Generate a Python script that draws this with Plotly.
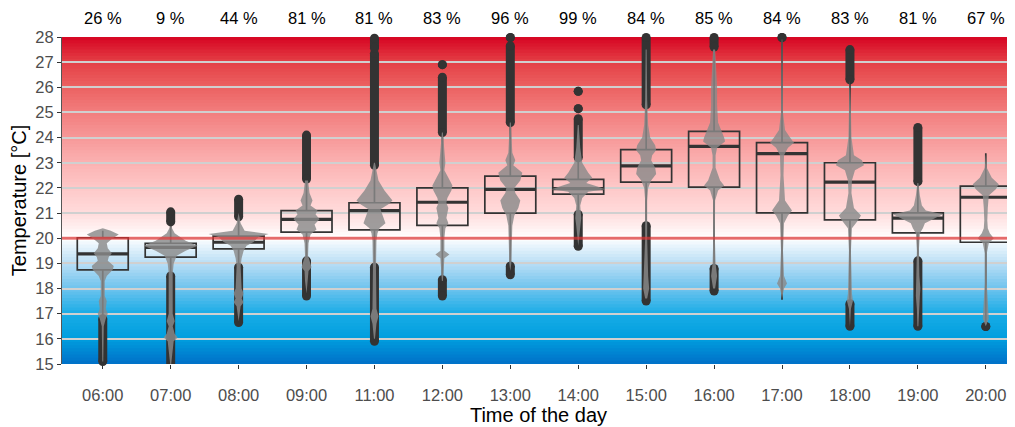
import plotly.graph_objects as go

# ---------------- data ----------------
times = ["06:00", "07:00", "08:00", "09:00", "11:00", "12:00", "13:00",
         "14:00", "15:00", "16:00", "17:00", "18:00", "19:00", "20:00"]
pct = [26, 9, 44, 81, 81, 83, 96, 99, 84, 85, 84, 83, 81, 67]

q1 = [18.74, 19.25, 19.58, 20.24, 20.33, 20.51, 21.00, 21.75, 22.23, 22.03, 21.01, 20.73, 20.21, 19.84]
med = [19.38, 19.64, 19.84, 20.75, 21.10, 21.43, 21.94, 21.97, 22.88, 23.65, 23.36, 22.23, 20.80, 21.63]
q3 = [20.02, 19.80, 20.08, 21.10, 21.41, 22.00, 22.47, 22.34, 23.52, 24.25, 23.80, 23.00, 21.01, 22.07]
whisk_lo = [16.82, 18.45, 18.85, 18.95, 18.71, 18.27, 19.00, 20.85, 20.35, 18.75, 17.55, 17.40, 19.01, 16.60]
whisk_hi = [20.30, 20.62, 20.80, 22.35, 23.00, 24.20, 24.60, 23.20, 25.30, 27.55, 27.93, 26.30, 22.20, 23.38]

outliers = [
    [[15.10, 16.80]],
    [[20.65, 21.05], [14.98, 18.50]],
    [[20.85, 21.55], [16.65, 18.85]],
    [[22.35, 24.10], [17.70, 19.10]],
    [[22.90, 27.35], [27.55, 27.95], [15.90, 18.85]],
    [[24.20, 26.40], [26.90, 26.90], [17.70, 18.35]],
    [[24.60, 27.65], [27.98, 27.98], [18.55, 18.90]],
    [[23.20, 24.75], [25.15, 25.15], [25.84, 25.84], [19.68, 20.95]],
    [[25.30, 27.98], [17.50, 20.50]],
    [[27.60, 27.98], [17.90, 18.80]],
    [[27.98, 27.98]],
    [[26.30, 27.50], [16.50, 17.40]],
    [[22.25, 24.40], [16.50, 19.10]],
    [[16.49, 16.49]],
]

# violin density profiles: temperature levels and half-widths (px)
violin_y = [
    [15.1, 16.5, 16.8, 17.0, 17.2, 17.5, 17.7, 18.3, 18.5, 18.75, 18.9, 19.1, 19.25, 19.4, 19.6, 19.8, 20.0, 20.15, 20.3, 20.4],
    [15.0, 15.9, 16.05, 16.2, 16.5, 16.7, 17.0, 18.6, 19.0, 19.3, 19.5, 19.7, 19.9, 20.2, 20.5],
    [16.7, 17.3, 17.45, 17.6, 17.8, 18.0, 18.9, 19.2, 19.5, 19.7, 19.85, 20.05, 20.17, 20.3, 20.6, 21.0],
    [17.8, 18.3, 18.7, 18.85, 19.0, 19.3, 19.8, 20.15, 20.35, 20.55, 20.75, 20.95, 21.1, 21.3, 21.5, 21.8, 22.3],
    [16.0, 16.6, 16.9, 17.2, 18.8, 19.9, 20.2, 20.4, 20.6, 20.9, 21.15, 21.35, 21.5, 21.9, 22.3, 23.0],
    [18.3, 18.6, 19.2, 19.35, 19.5, 20.0, 20.4, 20.6, 20.8, 21.0, 21.2, 21.4, 21.6, 21.9, 22.1, 22.4, 22.7, 23.0, 23.4, 24.2],
    [18.7, 19.0, 20.5, 20.9, 21.2, 21.5, 21.8, 22.0, 22.3, 22.6, 22.9, 23.1, 23.4, 24.6],
    [19.7, 20.0, 20.5, 20.8, 21.3, 21.6, 21.85, 21.95, 22.05, 22.2, 22.4, 22.6, 23.0, 23.6, 24.5],
    [17.6, 18.0, 18.5, 20.0, 21.5, 22.0, 22.3, 22.55, 22.8, 23.1, 23.3, 23.5, 23.7, 24.0, 24.5, 25.5, 27.5],
    [18.0, 18.5, 19.0, 20.0, 21.5, 21.9, 22.1, 22.3, 22.8, 23.3, 23.6, 23.85, 24.0, 24.6, 25.3, 26.0, 26.8, 27.5],
    [17.6, 18.0, 18.2, 18.5, 19.5, 20.6, 20.9, 21.1, 21.5, 22.5, 23.3, 23.6, 23.8, 24.0, 24.3, 25.0, 27.9],
    [16.5, 17.2, 17.5, 17.8, 19.5, 20.4, 20.7, 20.9, 21.2, 21.8, 22.3, 22.7, 22.9, 23.1, 23.3, 24.0, 25.0, 26.3],
    [16.5, 17.2, 17.7, 18.0, 18.5, 19.5, 20.2, 20.4, 20.6, 20.85, 20.95, 21.1, 21.3, 21.7, 22.2],
    [16.5, 16.8, 17.5, 18.2, 19.4, 19.8, 20.0, 20.2, 20.4, 20.7, 21.2, 21.7, 21.95, 22.15, 22.4, 22.8, 23.35],
]
violin_w = [
    [0.5, 1, 3, 5, 3, 4, 2, 2, 4, 10, 11, 5, 6, 9, 5, 4, 10, 16, 8, 0],
    [0.5, 3, 7, 4, 2, 4, 2, 2, 3, 6, 15, 27, 15, 4, 0],
    [0, 2, 5, 3, 5, 3, 2, 3, 5, 8, 15, 20, 30, 6, 2, 0],
    [0, 1.5, 2, 5, 4, 1.5, 2, 4, 10, 8, 13, 9, 11, 4, 6, 3, 1.5],
    [0.5, 2, 4, 2, 1.5, 2, 3, 5, 11, 8, 6, 14, 18, 10, 4, 0.5],
    [0.5, 1, 2, 7, 2, 2, 3, 6, 4, 5, 6, 4, 5, 9, 10, 6, 2, 3, 2, 0.5],
    [0, 1, 2, 4, 8, 10, 5, 4, 10, 12, 3, 5, 2, 0.5],
    [0, 1, 2, 3, 2, 4, 10, 27, 20, 8, 14, 10, 4, 2, 0.5],
    [1, 3, 2, 1, 1, 2, 5, 10, 9, 5, 6, 10, 9, 4, 2, 1, 0.5],
    [1, 3, 1.5, 0.8, 1, 4, 10, 6, 1.5, 1.5, 3, 11, 10, 4, 3, 3, 2, 1],
    [0, 2, 5, 2, 1, 2, 6, 10, 3, 1.5, 2, 6, 12, 8, 3, 1, 0.3],
    [0, 1, 3, 2, 1, 2, 8, 11, 4, 1.5, 2, 5, 14, 12, 4, 1.5, 1, 0.3],
    [0.5, 1, 2, 2.5, 1.5, 1, 2, 5, 7, 20, 25, 8, 4, 2, 0.5],
    [0, 3, 2, 1, 1, 3, 8, 4, 2, 1.5, 2, 3, 10, 13, 6, 1, 0],
]

# ---------------- styling ----------------
FONT = "Liberation Sans"
DARK = "#333333"
PX_PER_UNIT = (1015 - 62) / 14.03
BOX_W = 0.75

fig = go.Figure()

# boxes (precomputed statistics)
fig.add_trace(go.Box(
    x=list(range(len(times))), q1=q1, median=med, q3=q3,
    lowerfence=whisk_lo, upperfence=whisk_hi,
    width=BOX_W, whiskerwidth=0, boxpoints=False,
    fillcolor="rgba(0,0,0,0)", line=dict(color=DARK, width=1.7),
    hoverinfo="skip", showlegend=False,
))

# thicker median bars
mx, my = [], []
for i, m in enumerate(med):
    mx += [i - BOX_W / 2, i + BOX_W / 2, None]
    my += [m, m, None]
fig.add_trace(go.Scatter(x=mx, y=my, mode="lines",
                         line=dict(color=DARK, width=3.2),
                         hoverinfo="skip", showlegend=False))

# outliers: dense runs as thick strokes, with round end points
sx, sy, px_, py_ = [], [], [], []
for i, segs in enumerate(outliers):
    for a, b in segs:
        if a != b:
            sx += [i, i, None]
            sy += [a, b, None]
        px_ += [i, i]
        py_ += [a, b]
fig.add_trace(go.Scatter(x=sx, y=sy, mode="lines",
                         line=dict(color=DARK, width=9),
                         hoverinfo="skip", showlegend=False))
fig.add_trace(go.Scatter(x=px_, y=py_, mode="markers", cliponaxis=False,
                         marker=dict(color=DARK, size=9, line=dict(width=0)),
                         hoverinfo="skip", showlegend=False))

# violins
for i, (vy, vw) in enumerate(zip(violin_y, violin_w)):
    xr = [i + w / PX_PER_UNIT for w in vw]
    xl = [i - w / PX_PER_UNIT for w in vw][::-1]
    fig.add_trace(go.Scatter(
        x=xr + xl, y=list(vy) + list(vy)[::-1],
        mode="lines", fill="toself",
        fillcolor="rgba(138,138,138,0.82)",
        line=dict(width=0, color="rgba(0,0,0,0)"),
        hoverinfo="skip", showlegend=False))

# background gradient (blue -> white at 20 -> red)
stops = [(15, (0, 112, 200)), (16, (0, 158, 222)), (17, (25, 172, 230)),
         (18, (110, 195, 238)), (19, (185, 222, 245)), (19.7, (232, 244, 252)),
         (20, (255, 255, 255)), (20.3, (255, 244, 244)), (21, (255, 220, 220)),
         (22, (254, 200, 200)), (23, (251, 178, 178)), (24, (247, 152, 152)),
         (25, (242, 126, 126)), (26, (236, 98, 98)), (27, (228, 64, 70)),
         (28, (214, 4, 34))]


def col_at(v):
    for (a, ca), (b, cb) in zip(stops[:-1], stops[1:]):
        if a <= v <= b:
            t = (v - a) / (b - a)
            return "rgb(%d,%d,%d)" % tuple(round(ca[k] + t * (cb[k] - ca[k])) for k in range(3))
    return "rgb(255,255,255)"


shapes = []
n = 104
for k in range(n):
    y0 = 15 + 13 * k / n
    y1 = 15 + 13 * (k + 1) / n
    c = col_at((y0 + y1) / 2)
    shapes.append(dict(type="rect", xref="paper", yref="y", x0=0, x1=1,
                       y0=y0, y1=min(y1 + 0.08, 28), fillcolor=c,
                       line=dict(width=0), layer="below"))
shapes.append(dict(type="line", xref="paper", yref="y", x0=0, x1=1, y0=20, y1=20,
                   line=dict(color="rgba(238,50,50,0.65)", width=3), layer="above"))

annotations = [dict(x=i, y=1.058, xref="x", yref="paper", text=f"{p} %",
                    showarrow=False, font=dict(family=FONT, size=16.5, color="black"),
                    xanchor="center", yanchor="middle")
               for i, p in enumerate(pct)]

# the page body has an 8px margin: size the figure so the plot lands in place
fig.update_layout(
    width=1007, height=419,
    margin=dict(l=54, r=0, t=29, b=63),
    paper_bgcolor="white", plot_bgcolor="white",
    font=dict(family=FONT, color="#4d4d4d"),
    shapes=shapes, annotations=annotations,
    showlegend=False,
)
fig.update_xaxes(
    range=[-0.6, 13.43], tickmode="array",
    tickvals=list(range(len(times))), ticktext=times,
    showgrid=False, zeroline=False, ticks="outside", ticklen=4,
    tickcolor=DARK, tickfont=dict(family=FONT, size=16.5, color="#4d4d4d"),
    ticklabelstandoff=12,
    title=dict(text="Time of the day", font=dict(family=FONT, size=20, color="black"),
               standoff=0),
    automargin=False,
)
fig.update_yaxes(
    range=[15, 28], tickmode="array", tickvals=list(range(15, 29)),
    showgrid=True, gridcolor="#d0d0d0", gridwidth=1.6, zeroline=False,
    ticks="outside", ticklen=4, tickcolor=DARK,
    showline=True, linecolor="#555555", linewidth=1,
    tickfont=dict(family=FONT, size=16.5, color="#4d4d4d"),
    title=dict(text="Temperature [°C]", font=dict(family=FONT, size=20, color="black"),
               standoff=6),
    automargin=False,
)

fig.write_html("out.html")
